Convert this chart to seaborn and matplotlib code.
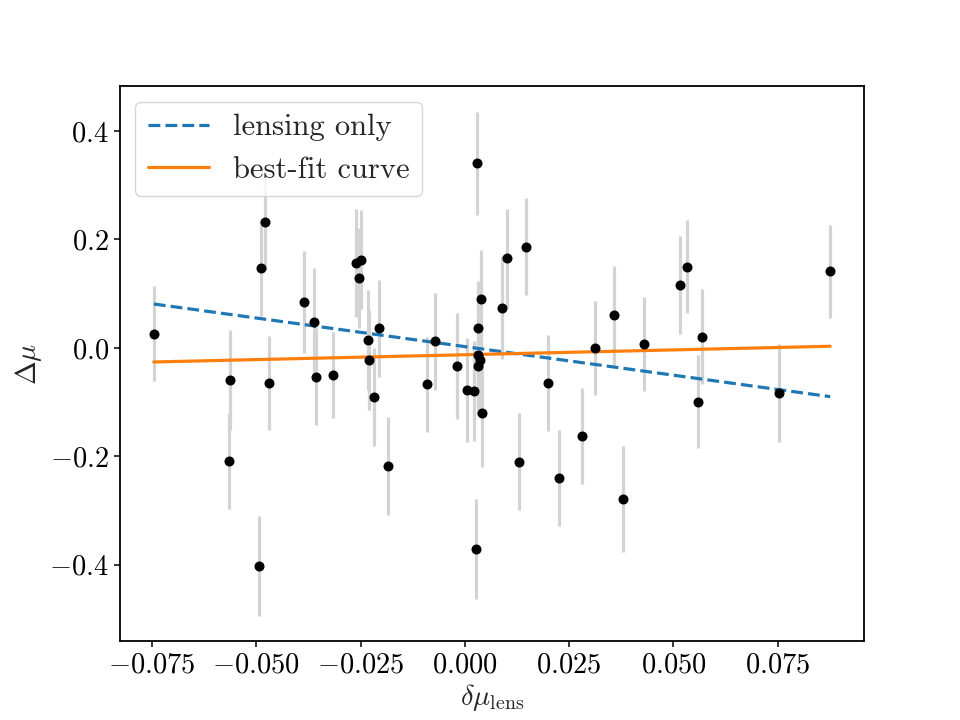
import numpy as np
import pandas as pd
import matplotlib
matplotlib.use("Agg")
import matplotlib.pyplot as plt
import seaborn as sns
from matplotlib.lines import Line2D

# ---- data ----
delta_mu_lens = [-0.0746, -0.0566, -0.0564, -0.0494, -0.0488, -0.0479, -0.0469,
                 -0.0386, -0.0362, -0.0356, -0.0316, -0.0262, -0.0254, -0.0249,
                 -0.0232, -0.0231, -0.0218, -0.0207, -0.0185, -0.0092, -0.0071,
                 -0.0019, 0.0004, 0.0022, 0.0026, 0.0030, 0.0031, 0.0032, 0.0032,
                 0.0036, 0.0038, 0.0042, 0.0088, 0.0101, 0.0130, 0.0146, 0.0200,
                 0.0226, 0.0281, 0.0313, 0.0358, 0.0379, 0.0430, 0.0517, 0.0533,
                 0.0559, 0.0568, 0.0753, 0.0876]
delta_mu = [0.026, -0.209, -0.059, -0.402, 0.148, 0.233, -0.065,
            0.085, 0.047, -0.053, -0.050, 0.157, 0.129, 0.163,
            0.015, -0.022, -0.091, 0.036, -0.218, -0.067, 0.012,
            -0.033, -0.077, -0.079, -0.371, 0.341, -0.013, 0.036, -0.033,
            -0.022, 0.090, -0.120, 0.074, 0.165, -0.210, 0.187, -0.065,
            -0.240, -0.163, 0.000, 0.060, -0.279, 0.007, 0.116, 0.150,
            -0.099, 0.021, -0.083, 0.141]
delta_mu_err = [0.088, 0.089, 0.092, 0.092, 0.090, 0.090, 0.087,
                0.094, 0.100, 0.090, 0.080, 0.100, 0.092, 0.092,
                0.092, 0.092, 0.090, 0.090, 0.090, 0.088, 0.089,
                0.098, 0.096, 0.092, 0.092, 0.095, 0.090, 0.087, 0.090,
                0.090, 0.090, 0.099, 0.095, 0.091, 0.089, 0.090, 0.089,
                0.088, 0.089, 0.087, 0.092, 0.098, 0.087, 0.090, 0.086,
                0.086, 0.088, 0.090, 0.086]

line_x = [min(delta_mu_lens), max(delta_mu_lens)]
lensing_only_y = [0.081, -0.090]
best_fit_y = [-0.026, 0.003]

df = pd.DataFrame({"x": delta_mu_lens, "y": delta_mu, "err": delta_mu_err})
lines_df = pd.DataFrame({"x": line_x, "lens": lensing_only_y, "fit": best_fit_y})

# ---- style ----
sns.set_style("ticks")
plt.rcParams.update({
    "font.family": ["serif"],
    "font.serif": ["cmr10", "DejaVu Serif"],
    "mathtext.fontset": "cm",
    "axes.formatter.use_mathtext": True,
    "font.size": 20.5,
    "axes.edgecolor": "black",
    "axes.linewidth": 1.3,
    "xtick.color": "black",
    "ytick.color": "black",
    "xtick.major.size": 4.5,
    "ytick.major.size": 4.5,
    "xtick.major.width": 1.1,
    "ytick.major.width": 1.1,
    "xtick.direction": "out",
    "ytick.direction": "out",
    "axes.unicode_minus": True,
})

fig, ax = plt.subplots(figsize=(9.6, 7.2), dpi=100)
fig.subplots_adjust(left=0.125, right=0.9, bottom=0.11, top=0.88)

ax.errorbar(df["x"], df["y"], yerr=df["err"], fmt="none",
            ecolor="#d3d3d3", elinewidth=2.3, capsize=0, zorder=1)

sns.lineplot(data=lines_df, x="x", y="lens", ax=ax, color="#1f77b4",
             linestyle="--", linewidth=2.3, zorder=2, legend=False)
sns.lineplot(data=lines_df, x="x", y="fit", ax=ax, color="#ff7f0e",
             linestyle="-", linewidth=2.3, zorder=2, legend=False)

sns.scatterplot(data=df, x="x", y="y", ax=ax, color="black", s=52,
                linewidth=0, zorder=3, legend=False)

ax.autoscale()
ax.set_xticks([-0.075, -0.050, -0.025, 0.0, 0.025, 0.050, 0.075])
ax.set_yticks([-0.4, -0.2, 0.0, 0.2, 0.4])
ax.xaxis.set_major_formatter(matplotlib.ticker.FuncFormatter(
    lambda v, p: "$%s$" % ("%.3f" % v)))
ax.yaxis.set_major_formatter(matplotlib.ticker.FuncFormatter(
    lambda v, p: "$%s$" % ("%.1f" % v)))
ax.set_xlabel(r"$\delta\mu_{\rm lens}$", labelpad=3)
ax.set_ylabel(r"$\Delta\mu$", labelpad=4)

handles = [Line2D([], [], color="#1f77b4", linestyle="--", linewidth=2.3),
           Line2D([], [], color="#ff7f0e", linestyle="-", linewidth=2.3)]
ax.legend(handles, ["lensing only", "best-fit curve"], loc="upper left",
          fontsize=22, handlelength=2.0)

fig.savefig("out.png", dpi=100)
